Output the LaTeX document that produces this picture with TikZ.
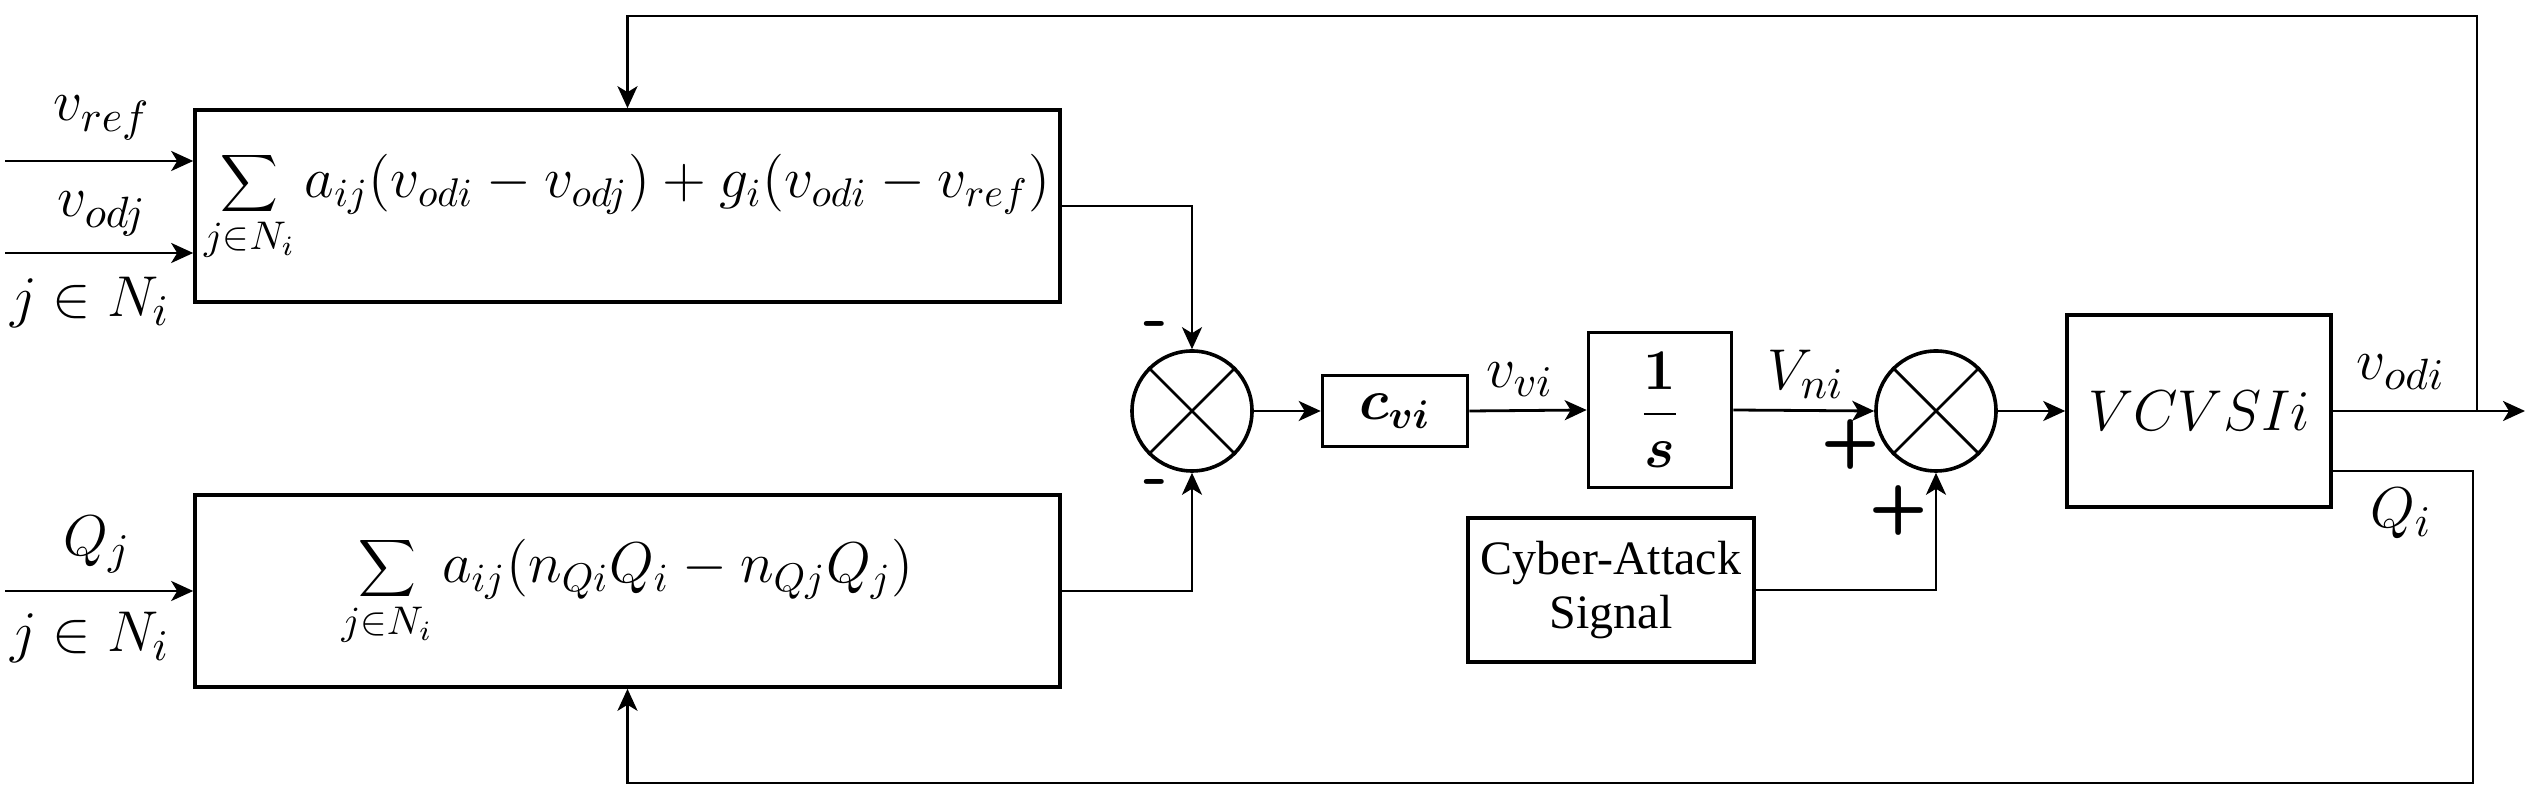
\documentclass[tikz,border=0pt]{standalone}
\usepackage{bm}
\usepackage{fontspec}
\newfontfamily\timesf{Liberation Serif}
\usetikzlibrary{arrows.meta}
\begin{document}
\begin{tikzpicture}[x=0.25pt,y=-0.25pt,
  blk/.style={draw,line width=0.9pt,inner sep=0pt,align=center},
  sumc/.style={draw,circle,line width=0.9pt,minimum size=30pt,inner sep=0pt},
  conn/.style={line width=0.7pt,-{Stealth[length=5.5pt,width=5pt,inset=1.5pt]}},
  lbl/.style={font=\fontsize{15}{18}\selectfont},
  sgn/.style={font=\fontsize{17}{18}\selectfont\sffamily\bfseries}]
\useasboundingbox (0,0) rectangle (2530,800);
\fontsize{15}{18}\selectfont
% boxes
\node[blk,minimum width=216.25pt,minimum height=48pt,font=\fontsize{14.4}{17}\selectfont] (top) at (627.5,206)
  {$\displaystyle\sum_{j\in N_i} a_{ij}(v_{odi}-v_{odj})+g_i(v_{odi}-v_{ref})$};
\node[blk,minimum width=216.25pt,minimum height=48pt,font=\fontsize{14.4}{17}\selectfont] (bot) at (627.5,591)
  {$\displaystyle\sum_{j\in N_i} a_{ij}(n_{Qi}Q_i-n_{Qj}Q_j)$};
\node[sumc] (s1) at (1192,411) {};
\draw[line width=0.7pt] (s1.north west) -- (s1.south east) (s1.north east) -- (s1.south west);
\node[blk,minimum width=36.25pt,minimum height=17.75pt,font=\fontsize{14}{16}\selectfont] (cv) at (1395,411) {$\bm{c_{vi}}$};
\node[blk,minimum width=35.75pt,minimum height=38.75pt,font=\fontsize{14}{16}\selectfont] (int) at (1660,410) {$\displaystyle\frac{\bm{1}}{\bm{s}}$};
\node[sumc] (s2) at (1936,411) {};
\draw[line width=0.7pt] (s2.north west) -- (s2.south east) (s2.north east) -- (s2.south west);
\node[blk,minimum width=71.5pt,minimum height=36pt,font=\timesf\fontsize{12}{13.5}\selectfont] (cyb) at (1611,590) {Cyber-Attack\\Signal};
\node[blk,minimum width=66pt,minimum height=48pt,font=\fontsize{14}{16}\selectfont] (vc) at (2199,411) {$VCVSIi$};
% inputs
\coordinate (iref) at (5,161);
\coordinate (iodj) at (5,253);
\coordinate (iq) at (5,591);
\draw[conn] (iref) -- (iref -| top.west);
\draw[conn] (iodj) -- (iodj -| top.west);
\draw[conn] (iq) -- (iq -| bot.west);
\node[lbl] (lref) at (102,118) {$v_{ref}$};
\node[lbl] (lodj) at (102,214) {$v_{odj}$};
\node[lbl] (lj1) at (90,302) {$j\in N_i$};
\node[lbl] (lqj) at (97,545) {$Q_j$};
\node[lbl] (lj2) at (90,637) {$j\in N_i$};
% to summer 1
\draw[conn] (top.east) -| (s1.north);
\draw[conn] (bot.east) -| (s1.south);
\node[sgn] (m1) at (1156,330) {-};
\node[sgn] (m2) at (1156,488) {-};
\draw[conn] (s1.east) -- (cv.west);
\draw[conn] (cv.east) -- (int.west);
\node[lbl] (lvv) at (1520,380) {$v_{vi}$};
\draw[conn] (int.east) -- (s2.west);
\node[lbl] (lvn) at (1806,374) {$V_{ni}$};
\node[sgn] (p1) at (1851,445) {+};
\node[sgn] (p2) at (1899,511) {+};
\draw[conn] (cyb.east) -| (s2.south);
\draw[conn] (s2.east) -- (vc.west);
% output
\coordinate (out) at (2525,411);
\draw[conn] (vc.east) -- (out);
\node[lbl] (lvo) at (2401,372) {$v_{odi}$};
\coordinate (fb1) at (2477,411);
\coordinate (fb2) at (2477,16);
\draw[conn] (fb1) -- (fb2) -| (top.north);
\coordinate (q1) at (2473,471);
\coordinate (q2) at (2473,783);
\draw[conn] (vc.east |- q1) -- (q1) -- (q2) -| (bot.south);
\node[lbl] (lqi) at (2401,513) {$Q_i$};
\end{tikzpicture}
\end{document}
